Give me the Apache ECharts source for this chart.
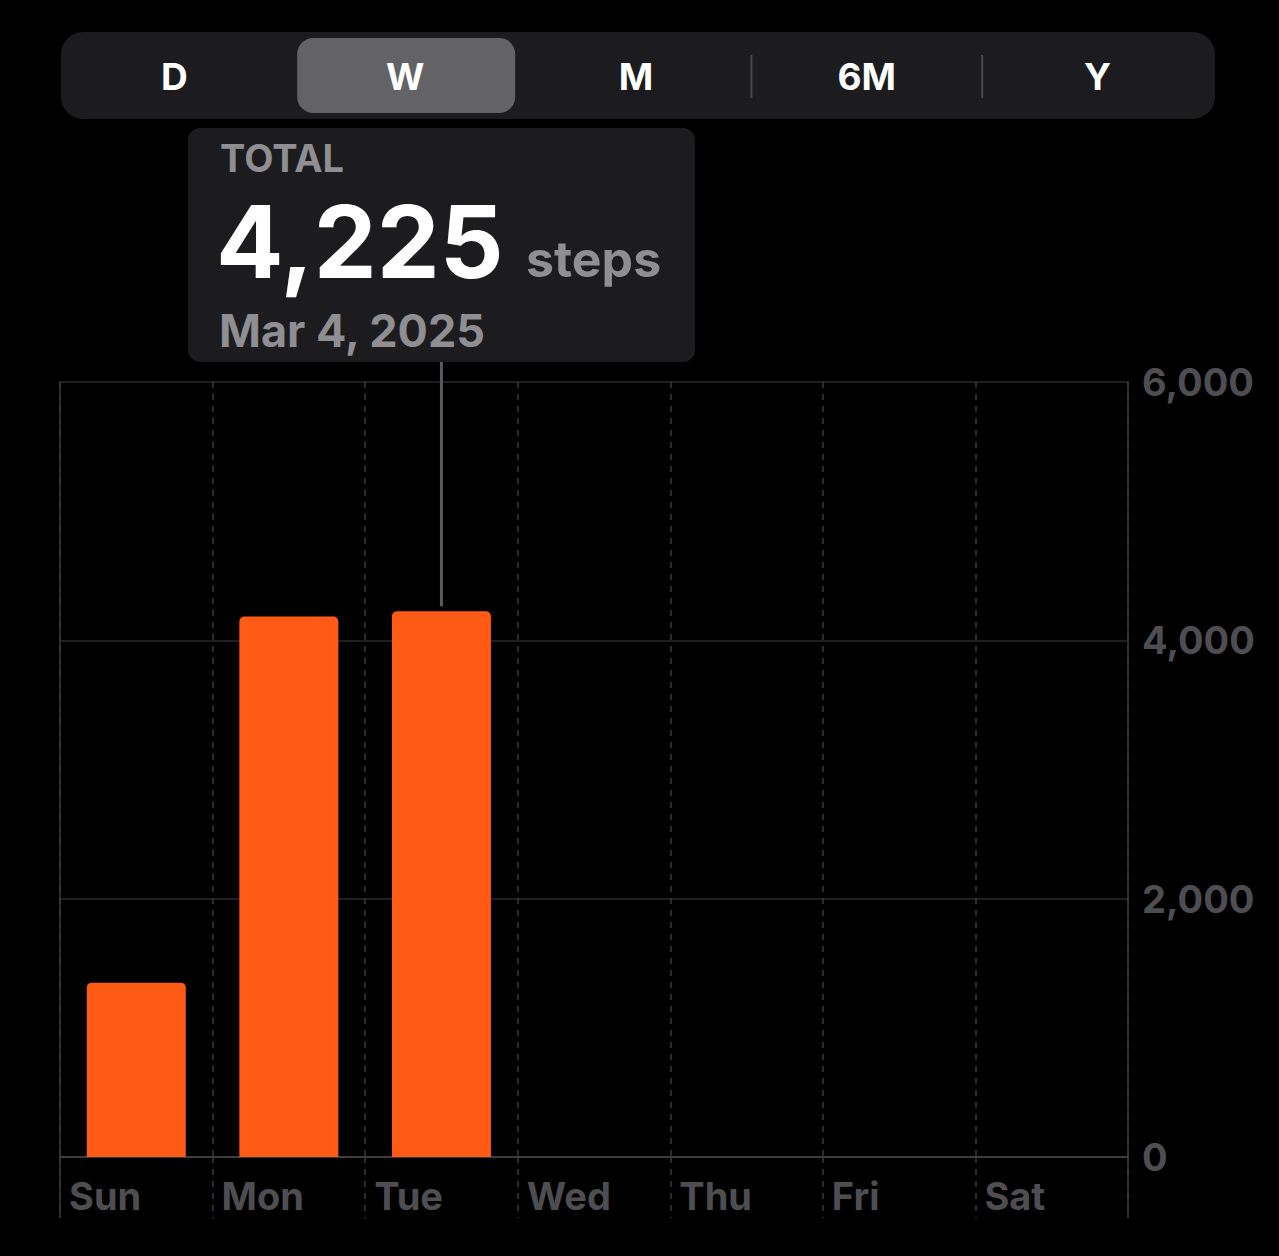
<!DOCTYPE html>
<html>
<head>
<meta charset="utf-8">
<style>
html,body{margin:0;padding:0;background:#000;}
#c{width:1279px;height:1256px;}
</style>
<script src="https://cdn.jsdelivr.net/npm/echarts@6/dist/echarts.min.js"></script>
</head>
<body>
<div id="c"></div>
<script>
// ---- data ----
const days = ['Sun', 'Mon', 'Tue', 'Wed', 'Thu', 'Fri', 'Sat'];
const steps = [1350, 4185, 4225, null, null, null, null];
const yTicks = [0, 2000, 4000, 6000];
const periods = ['D', 'W', 'M', '6M', 'Y'];
const selectedPeriod = 'W';
const selectedDay = 'Tue';
const tipLabel = 'TOTAL';
const tipValue = '4,225';
const tipUnit = 'steps';
const tipDate = 'Mar 4, 2025';

const FONT = 'Inter, "Noto Sans", sans-serif';
const gray = '#4e4e52';
const dashed = {color: '#3a3a3c', width: 1.5, type: [6, 6]};
const chart = echarts.init(document.getElementById('c'), null, {renderer: 'svg'});

const fmt = v => v.toLocaleString('en-US');
// boundary axis: one slot per day boundary (label sits just right of each boundary)
const boundaries = days.concat(['']);

chart.setOption({
  backgroundColor: '#000',
  animation: false,
  grid: {left: 60, right: 151, top: 382, bottom: 99, containLabel: false},
  xAxis: [{
    type: 'category',
    data: days,
    boundaryGap: true,
    axisLine: {show: true, lineStyle: {color: '#3d3d40', width: 2}},
    axisTick: {show: false},
    axisLabel: {show: false},
    splitLine: {show: false}
  }, {
    type: 'category',
    data: boundaries,
    boundaryGap: false,
    position: 'bottom',
    axisLine: {show: false},
    axisTick: {show: true, interval: 0, length: 61, lineStyle: dashed},
    axisLabel: {show: true, interval: 0, color: gray, fontFamily: FONT, fontWeight: 'bold',
      fontSize: 38, align: 'left', margin: 20, padding: [0, 0, 0, 9]},
    splitLine: {show: true, interval: 0, lineStyle: dashed}
  }],
  yAxis: [{
    type: 'value', position: 'right',
    min: yTicks[0], max: yTicks[yTicks.length - 1], interval: 2000,
    axisLine: {show: true, lineStyle: {color: '#3a3a3c', width: 1.5}},
    axisTick: {show: false},
    axisLabel: {color: gray, fontFamily: FONT, fontWeight: 'bold', fontSize: 38,
      margin: 14, align: 'left', formatter: v => fmt(v)},
    splitLine: {show: true, lineStyle: {color: '#2a2a2c', width: 1.5}}
  }, {
    type: 'value', position: 'left',
    min: yTicks[0], max: yTicks[yTicks.length - 1], interval: 2000,
    axisLine: {show: true, lineStyle: {color: '#3a3a3c', width: 1.5}},
    axisTick: {show: false}, axisLabel: {show: false}, splitLine: {show: false}
  }],
  series: [{
    type: 'bar',
    xAxisIndex: 0, yAxisIndex: 0,
    data: steps,
    barWidth: 99,
    itemStyle: {color: '#ff5a16', borderRadius: [5, 5, 0, 0]}
  }]
});

const graphics = [];

// segmented control
const segL = 61, segR = 1215, segT = 32, segB = 119;
graphics.push({type: 'rect', shape: {x: segL, y: segT, width: segR - segL, height: segB - segT, r: 22},
  style: {fill: '#1c1c1e'}, z: 1});
const segW = (segR - segL) / periods.length;
periods.forEach((p, i) => {
  const cx = segL + segW * (i + 0.5);
  if (p === selectedPeriod) {
    graphics.push({type: 'rect', shape: {x: cx - 110, y: segT + 6, width: 218, height: segB - segT - 12, r: 16},
      style: {fill: '#636366'}, z: 2});
  }
  graphics.push({type: 'text', x: cx - 2, y: (segT + segB) / 2 + 1, z: 3,
    style: {text: p, fill: '#fff', font: 'bold 37px ' + FONT, textAlign: 'center', textVerticalAlign: 'middle'}});
});
const selIdx = periods.indexOf(selectedPeriod);
for (let i = 1; i < periods.length; i++) {
  if (i === selIdx || i === selIdx + 1) continue;
  const x = segL + segW * i;
  graphics.push({type: 'line', shape: {x1: x - 2, y1: 55, x2: x - 2, y2: 98}, style: {stroke: '#48484a', lineWidth: 2}, z: 2});
}

// tooltip box
const tipL = 188, tipT = 128, tipR = 695, tipB = 362;
graphics.push({type: 'rect', shape: {x: tipL, y: tipT, width: tipR - tipL, height: tipB - tipT, r: 12},
  style: {fill: '#1c1c1e'}, z: 5});
graphics.push({type: 'text', x: 220, y: 158, z: 6,
  style: {text: tipLabel, fill: '#8e8e93', font: 'bold 38px ' + FONT, textVerticalAlign: 'middle'}});
graphics.push({type: 'text', x: 216, y: 241, z: 6,
  style: {text: tipValue, fill: '#fff', font: 'bold 100px ' + FONT, textVerticalAlign: 'middle'}});
graphics.push({type: 'text', x: 526, y: 259, z: 6,
  style: {text: tipUnit, fill: '#8e8e93', font: 'bold 50px ' + FONT, textVerticalAlign: 'middle'}});
graphics.push({type: 'text', x: 219, y: 330, z: 6,
  style: {text: tipDate, fill: '#8e8e93', font: 'bold 45px ' + FONT, textVerticalAlign: 'middle'}});

// pointer line from tooltip to selected bar
const selVal = steps[days.indexOf(selectedDay)];
const barTop = chart.convertToPixel({xAxisIndex: 0, yAxisIndex: 0}, [selectedDay, selVal]);
graphics.push({type: 'line', shape: {x1: barTop[0], y1: tipB, x2: barTop[0], y2: barTop[1] - 5},
  style: {stroke: '#5a5a5e', lineWidth: 3}, z: 4});

// solid outer edges extending below the plot
const yBase = chart.convertToPixel({yAxisIndex: 0}, 0);
[boundaries[0], boundaries[boundaries.length - 1]].forEach((b, k) => {
  const x = chart.convertToPixel({xAxisIndex: 1}, k === 0 ? 0 : boundaries.length - 1);
  graphics.push({type: 'line', shape: {x1: x, y1: yBase, x2: x, y2: yBase + 61},
    style: {stroke: '#3a3a3c', lineWidth: 1.5}, z: 4});
});

chart.setOption({graphic: graphics});
</script>
</body>
</html>
